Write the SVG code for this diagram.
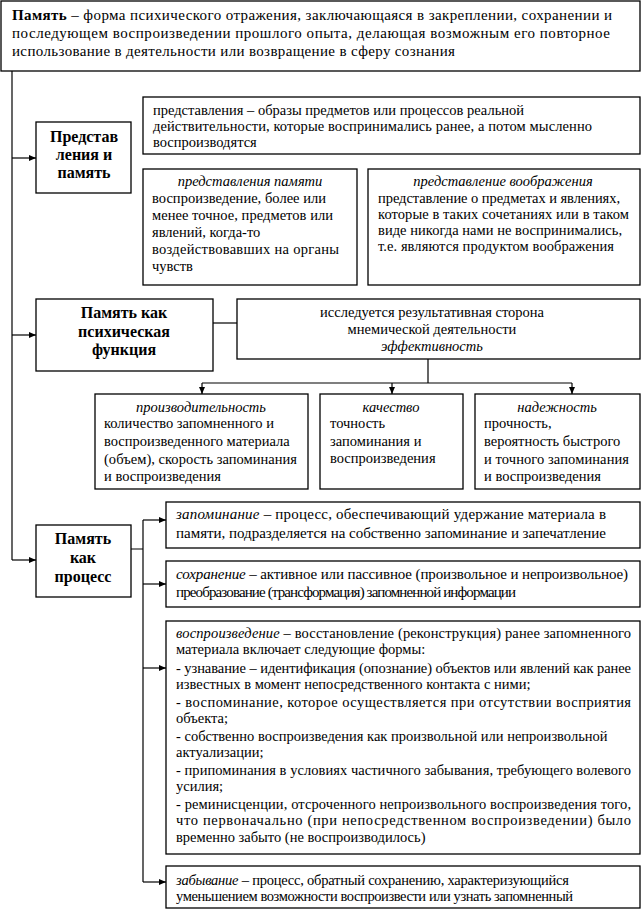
<svg xmlns="http://www.w3.org/2000/svg" width="642" height="915" viewBox="0 0 642 915" font-family="'Liberation Serif', 'Times New Roman', serif">
<style>
text{font-family:"Liberation Serif","Times New Roman",serif;font-size:14.5px;fill:#000}
.b{font-weight:bold;font-size:16px}
.i{font-style:italic}
.c{text-anchor:middle}
.t{font-size:15px}
.m{font-size:15px}
rect{fill:#fff;stroke:#000;stroke-width:1.3}
.ln{fill:none;stroke:#000;stroke-width:1.2}
</style>
<defs>
<marker id="ah" markerWidth="8" markerHeight="8" refX="7" refY="4" orient="auto" markerUnits="userSpaceOnUse">
<path d="M0,1 L7,4 L0,7 Z" fill="#000"/>
</marker>
</defs>
<rect x="0" y="0" width="642" height="915" style="fill:#fff;stroke:none"/>

<g id="connectors">
<path class="ln" d="M12,71 V560"/>
<path class="ln" d="M12,158 H36" marker-end="url(#ah)"/>
<path class="ln" d="M12,335 H36" marker-end="url(#ah)"/>
<path class="ln" d="M12,560 H36" marker-end="url(#ah)"/>
<path class="ln" d="M213,323 H237"/>
<path class="ln" d="M428,359 V383 M202,383 H572"/>
<path class="ln" d="M202,383 V394" marker-end="url(#ah)"/>
<path class="ln" d="M392,383 V394" marker-end="url(#ah)"/>
<path class="ln" d="M572,383 V394" marker-end="url(#ah)"/>
<path class="ln" d="M131,549 H143 M143,520 V882"/>
<path class="ln" d="M143,520 H166" marker-end="url(#ah)"/>
<path class="ln" d="M143,584 H166" marker-end="url(#ah)"/>
<path class="ln" d="M143,668 H166" marker-end="url(#ah)"/>
<path class="ln" d="M143,882 H166" marker-end="url(#ah)"/>
</g>

<g id="pamyat">
<rect x="1" y="1" width="639" height="70"/>
<text class="t" x="12" y="20" textLength="600" lengthAdjust="spacing"><tspan font-weight="bold">Память</tspan> – форма психического отражения, заключающаяся в закреплении, сохранении и</text>
<text class="t" x="12" y="38" textLength="598" lengthAdjust="spacing">последующем воспроизведении прошлого опыта, делающая возможным его повторное</text>
<text class="t" x="12" y="56" textLength="443" lengthAdjust="spacing">использование в деятельности или возвращение в сферу сознания</text>
</g>

<g id="predstavleniya">
<rect x="36" y="122" width="95" height="71"/>
<text class="b c" x="84" y="142">Представ</text>
<text class="b c" x="84" y="160">ления и</text>
<text class="b c" x="84" y="178">память</text>
</g>

<g id="predst-def">
<rect x="143" y="97" width="497" height="57"/>
<text x="153" y="115" textLength="371" lengthAdjust="spacing">представления – образы предметов или процессов реальной</text>
<text x="153" y="131" textLength="439" lengthAdjust="spacing">действительности, которые воспринимались ранее, а потом мысленно</text>
<text x="153" y="147">воспроизводятся</text>
</g>

<g id="predst-pamyati">
<rect x="143" y="169" width="214" height="116"/>
<text class="i c" x="250" y="186">представления памяти</text>
<text x="152" y="203" textLength="174" lengthAdjust="spacing">воспроизведение, более или</text>
<text x="152" y="220" textLength="181" lengthAdjust="spacing">менее точное, предметов или</text>
<text x="152" y="237">явлений, когда-то</text>
<text x="152" y="254" textLength="187" lengthAdjust="spacing">воздействовавших на органы</text>
<text x="152" y="271">чувств</text>
</g>

<g id="predst-voobr">
<rect x="368" y="169" width="272" height="116"/>
<text class="i c" x="503" y="186">представление воображения</text>
<text x="378" y="203" textLength="242" lengthAdjust="spacing">представление о предметах и явлениях,</text>
<text x="378" y="219" textLength="251" lengthAdjust="spacing">которые в таких сочетаниях или в таком</text>
<text x="378" y="235" textLength="244" lengthAdjust="spacing">виде никогда нами не воспринимались,</text>
<text x="378" y="251" textLength="236" lengthAdjust="spacing">т.е. являются продуктом воображения</text>
</g>

<g id="funkciya">
<rect x="36" y="299" width="177" height="72"/>
<text class="b c" x="124" y="318">Память как</text>
<text class="b c" x="124" y="337">психическая</text>
<text class="b c" x="124" y="355">функция</text>
</g>

<g id="effektivnost">
<rect x="237" y="299" width="403" height="60"/>
<text class="c" x="432" y="317">исследуется результативная сторона</text>
<text class="c" x="432" y="334">мнемической деятельности</text>
<text class="i c" x="432" y="351">эффективность</text>
</g>

<g id="proizvoditelnost">
<rect x="95" y="394" width="213" height="95"/>
<text class="i c" x="201" y="412">производительность</text>
<text x="104" y="428">количество запомненного и</text>
<text x="104" y="446">воспроизведенного материала</text>
<text x="104" y="464" textLength="193" lengthAdjust="spacing">(объем), скорость запоминания</text>
<text x="104" y="481">и воспроизведения</text>
</g>

<g id="kachestvo">
<rect x="320" y="394" width="143" height="95"/>
<text class="i c" x="391" y="412">качество</text>
<text x="330" y="428">точность</text>
<text x="330" y="446">запоминания и</text>
<text x="330" y="463">воспроизведения</text>
</g>

<g id="nadezhnost">
<rect x="475" y="394" width="165" height="95"/>
<text class="i c" x="557" y="412">надежность</text>
<text x="484" y="428">прочность,</text>
<text x="484" y="446">вероятность быстрого</text>
<text x="484" y="464" textLength="145" lengthAdjust="spacing">и точного запоминания</text>
<text x="484" y="481">и воспроизведения</text>
</g>

<g id="process">
<rect x="36" y="525" width="95" height="72"/>
<text class="b c" x="83" y="544">Память</text>
<text class="b c" x="83" y="563">как</text>
<text class="b c" x="83" y="582">процесс</text>
</g>

<g id="zapominanie">
<rect x="166" y="502" width="474" height="46"/>
<text class="m" x="176" y="519" textLength="430" lengthAdjust="spacing"><tspan class="i">запоминание</tspan> – процесс, обеспечивающий удержание материала в</text>
<text class="m" x="176" y="538" textLength="430" lengthAdjust="spacing">памяти, подразделяется на собственно запоминание и запечатление</text>
</g>

<g id="sohranenie">
<rect x="166" y="561" width="474" height="46"/>
<text class="m" x="176" y="579" textLength="452" lengthAdjust="spacing"><tspan class="i">сохранение</tspan> – активное или пассивное (произвольное и непроизвольное)</text>
<text class="m" x="176" y="597" textLength="340" lengthAdjust="spacing">преобразование (трансформация) запомненной информации</text>
</g>

<g id="vosproizvedenie">
<rect x="166" y="621" width="474" height="233"/>
<text x="176" y="638" textLength="455" lengthAdjust="spacing"><tspan class="i">воспроизведение</tspan> – восстановление (реконструкция) ранее запомненного</text>
<text x="176" y="654">материала включает следующие формы:</text>
<text x="176" y="673" textLength="455" lengthAdjust="spacing">- узнавание – идентификация (опознание) объектов или явлений как ранее</text>
<text x="176" y="689">известных в момент непосредственного контакта с ними;</text>
<text x="176" y="707" textLength="455" lengthAdjust="spacing">- воспоминание, которое осуществляется при отсутствии восприятия</text>
<text x="176" y="723">объекта;</text>
<text x="176" y="741">- собственно воспроизведения как произвольной или непроизвольной</text>
<text x="176" y="757">актуализации;</text>
<text x="176" y="775" textLength="455" lengthAdjust="spacing">- припоминания в условиях частичного забывания, требующего волевого</text>
<text x="176" y="791">усилия;</text>
<text x="176" y="809" textLength="455" lengthAdjust="spacing">- реминисценции, отсроченного непроизвольного воспроизведения того,</text>
<text x="176" y="825" textLength="455" lengthAdjust="spacing">что первоначально (при непосредственном воспроизведении) было</text>
<text x="176" y="842">временно забыто (не воспроизводилось)</text>
</g>

<g id="zabyvanie">
<rect x="166" y="866" width="474" height="42"/>
<text x="176" y="885" textLength="393" lengthAdjust="spacing"><tspan class="i">забывание</tspan> – процесс, обратный сохранению, характеризующийся</text>
<text x="176" y="901" textLength="397" lengthAdjust="spacing">уменьшением возможности воспроизвести или узнать запомненный</text>
</g>
</svg>
